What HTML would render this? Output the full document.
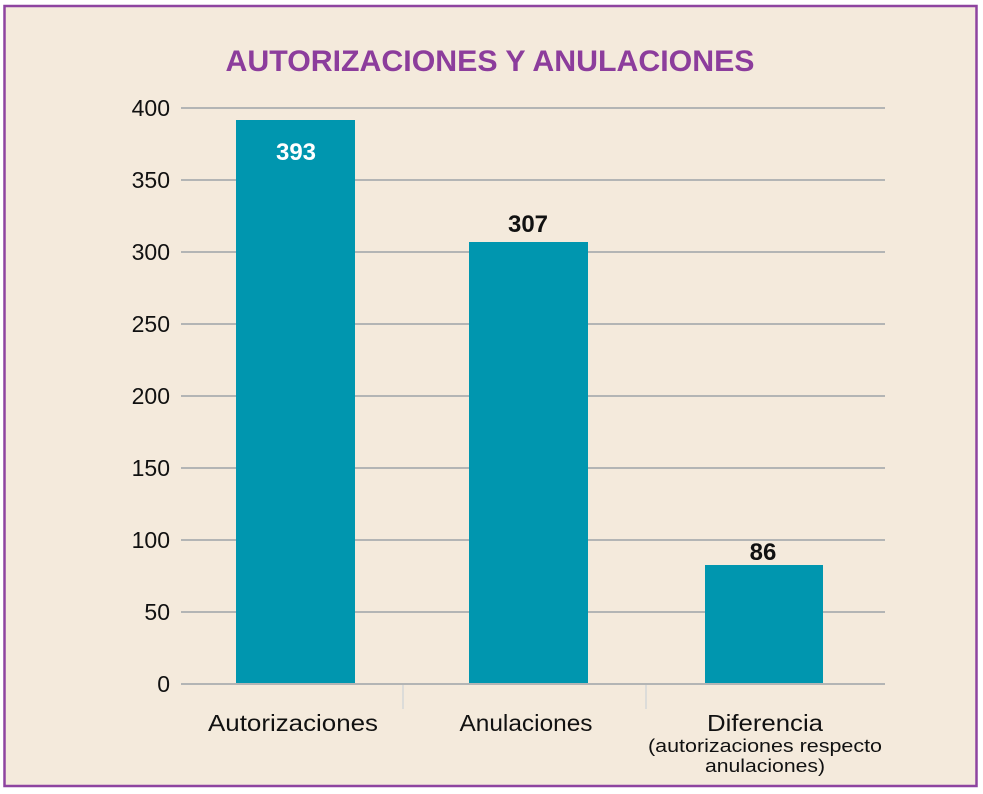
<!DOCTYPE html>
<html><head><meta charset="utf-8"><style>
html,body{margin:0;padding:0;background:#fff;width:983px;height:794px;overflow:hidden}
svg{display:block}
</style></head><body>
<svg width="983" height="794" xmlns="http://www.w3.org/2000/svg" font-family="'Liberation Sans', sans-serif">
<rect x="4.5" y="6" width="972" height="780" fill="#f4eadc" stroke="#8e44a0" stroke-width="2.5"/>
<text x="490" y="71" text-anchor="middle" font-size="30" font-weight="bold" fill="#8c3d9c" textLength="529" lengthAdjust="spacingAndGlyphs">AUTORIZACIONES Y ANULACIONES</text>
<g stroke="#b3b5b5" stroke-width="2">
<line x1="181" x2="885" y1="108" y2="108"/>
<line x1="181" x2="885" y1="180" y2="180"/>
<line x1="181" x2="885" y1="252" y2="252"/>
<line x1="181" x2="885" y1="324" y2="324"/>
<line x1="181" x2="885" y1="396" y2="396"/>
<line x1="181" x2="885" y1="468" y2="468"/>
<line x1="181" x2="885" y1="540" y2="540"/>
<line x1="181" x2="885" y1="612" y2="612"/>
</g>
<g stroke="#d5d8d8" stroke-width="1.5">
<line x1="403" x2="403" y1="685" y2="709"/>
<line x1="646" x2="646" y1="685" y2="709"/>
</g>
<g fill="#0096af">
<rect x="236" y="120" width="119" height="564"/>
<rect x="469" y="242" width="119" height="442"/>
<rect x="705" y="565" width="118" height="119"/>
</g>
<line x1="181" x2="885" y1="684" y2="684" stroke="#b3b5b5" stroke-width="2"/>
<g font-size="23" fill="#111" text-anchor="end">
<text x="170" y="116">400</text>
<text x="170" y="188">350</text>
<text x="170" y="260">300</text>
<text x="170" y="332">250</text>
<text x="170" y="404">200</text>
<text x="170" y="476">150</text>
<text x="170" y="548">100</text>
<text x="170" y="620">50</text>
<text x="170" y="692">0</text>
</g>
<g font-size="24" font-weight="bold" text-anchor="middle">
<text x="296" y="160" fill="#fff">393</text>
<text x="528" y="232" fill="#111">307</text>
<text x="763" y="560" fill="#111">86</text>
</g>
<g font-size="23" fill="#111" text-anchor="middle">
<text x="293" y="731" textLength="170" lengthAdjust="spacingAndGlyphs">Autorizaciones</text>
<text x="526" y="731" textLength="133" lengthAdjust="spacingAndGlyphs">Anulaciones</text>
<text x="765" y="731" textLength="116" lengthAdjust="spacingAndGlyphs">Diferencia</text>
</g>
<g font-size="18" fill="#111" text-anchor="middle">
<text x="765" y="752" textLength="234" lengthAdjust="spacingAndGlyphs">(autorizaciones respecto</text>
<text x="765" y="772" textLength="120" lengthAdjust="spacingAndGlyphs">anulaciones)</text>
</g>
</svg>
</body></html>
